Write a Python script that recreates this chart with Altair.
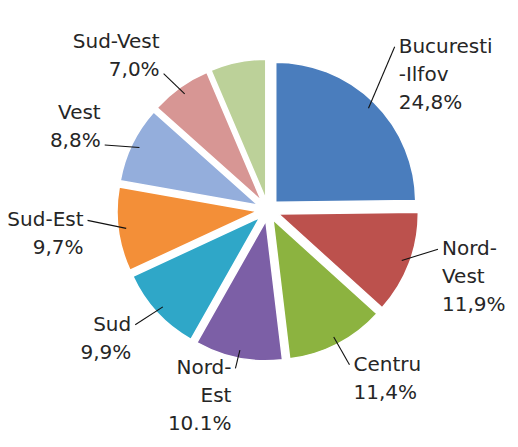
import altair as alt
import pandas as pd

# ---- data ----
regions = ["Bucuresti-Ilfov", "Nord-Vest", "Centru", "Nord-Est", "Sud",
           "Sud-Est", "Vest", "Sud-Vest", "Altele"]
values = [24.8, 11.9, 11.4, 10.1, 9.9, 9.7, 8.8, 7.0, 6.4]
label_names = ["Bucuresti\n-Ilfov", "Nord-\nVest", "Centru", "Nord-\nEst", "Sud",
               "Sud-Est", "Vest", "Sud-Vest", ""]
pct_labels = ["24,8%", "11,9%", "11,4%", "10.1%", "9,9%", "9,7%", "8,8%", "7,0%", ""]
colors = ["#4A7DBD", "#BC514D", "#8CB340", "#7C5FA6", "#2FA7C8",
          "#F38F38", "#94AEDC", "#D79694", "#BCD199"]

labels = [(n + "\n" + p) if n else "" for n, p in zip(label_names, pct_labels)]
df = pd.DataFrame({"region": regions, "value": values, "label": labels,
                   "order": list(range(len(regions)))})

# ---- layout constants ----
W, H = 502, 431
CX, CY = 260, 202
R = 140
EXP = 11
RX, RY = 186, 190
LH = 28

base = alt.Chart(df).transform_window(
    cum="sum(value)", sort=[alt.SortField("order")], frame=[None, 0]
).transform_joinaggregate(
    total="sum(value)"
).transform_calculate(
    a1="datum.cum / datum.total * 2 * PI",
    a0="(datum.cum - datum.value) / datum.total * 2 * PI",
).transform_calculate(
    mid="(datum.a0 + datum.a1) / 2"
).transform_calculate(
    s="sin(datum.mid)", c="cos(datum.mid)",
    nl="length(split(datum.label, '\\n'))",
).transform_calculate(
    cx=f"{CX} + {EXP} * datum.s",
    cy=f"{CY} - {EXP} * datum.c",
    lx=f"{CX} + {RX} * datum.s",
    ly=f"{CY} - {RY} * datum.c - (datum.nl - 1) * {LH} / 2",
    side="datum.s > 0.15 ? 'L' : (datum.s < -0.15 ? 'R' : 'C')",
).transform_calculate(
    x0=f"{CX} + {R + EXP - 8} * datum.s",
    y0=f"{CY} - {R + EXP - 8} * datum.c",
    x1="datum.side == 'L' ? datum.lx - 4 : (datum.side == 'R' ? datum.lx + 4 : datum.lx)",
    y1=f"(datum.s < 0 && datum.c > 0.3) ? datum.ly + (datum.nl - 1) * {LH} + 4 : datum.ly",
)

arcs = base.mark_arc(outerRadius=R, stroke="white", strokeWidth=1.5).encode(
    theta=alt.Theta("a0:Q", scale=None),
    theta2="a1:Q",
    x=alt.X("cx:Q", scale=None, axis=None),
    y=alt.Y("cy:Q", scale=None, axis=None),
    color=alt.Color("region:N", scale=alt.Scale(domain=regions, range=colors), legend=None),
)

leaders = base.transform_filter("datum.label != ''").mark_rule(
    color="#111111", strokeWidth=1.1
).encode(
    x=alt.X("x0:Q", scale=None, axis=None),
    y=alt.Y("y0:Q", scale=None, axis=None),
    x2="x1:Q",
    y2="y1:Q",
)

text_style = dict(font="DejaVu Sans", fontSize=20, lineBreak="\n", lineHeight=LH,
                  baseline="middle", color="#262626")

def text_layer(side, align):
    return base.transform_filter(f"datum.side == '{side}'").mark_text(
        align=align, **text_style
    ).encode(
        x=alt.X("lx:Q", scale=None, axis=None),
        y=alt.Y("ly:Q", scale=None, axis=None),
        text="label:N",
    )

chart = alt.layer(
    arcs, leaders,
    text_layer("L", "left"), text_layer("R", "right"), text_layer("C", "center"),
).properties(
    width=W, height=H, autosize="none", padding=0
).configure_view(stroke=None)

chart.save("out.html", embed_options={"renderer": "svg", "actions": False})
